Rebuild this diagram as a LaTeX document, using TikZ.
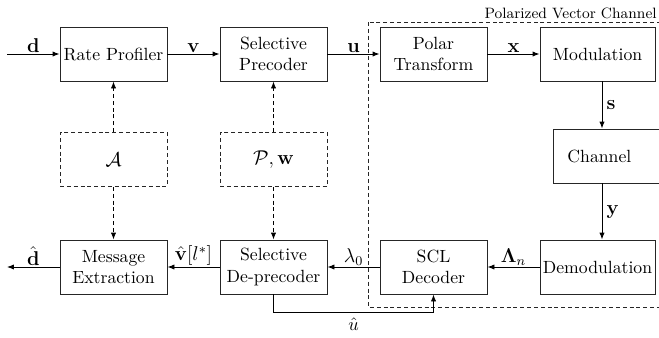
\documentclass[tikz,border=0pt]{standalone}
\usepackage{amsmath}
\usetikzlibrary{arrows.meta}
\tikzset{
  blk/.style={draw=black!85, line width=0.55pt, minimum width=64.2pt, minimum height=32.4pt, align=center, inner sep=1pt},
  dblk/.style={blk, dash pattern=on 2.4pt off 1.7pt, font=\fontsize{12}{14}\selectfont},
  sig/.style={line width=0.55pt, -{Latex[length=4.2pt,width=3.2pt]}},
  dsig/.style={sig, dash pattern=on 2.4pt off 1.7pt},
  lbl/.style={inner sep=0.5pt, font=\fontsize{12}{14}\selectfont},
}
\begin{document}
\begin{tikzpicture}[x=0.6pt, y=-0.6pt, font=\fontsize{10.6}{12.8}\selectfont]
\useasboundingbox (0,0) rectangle (659,337);
\clip (0,0) rectangle (659,337);

% top row
\node[blk] (rp) at (113.5,54) {Rate Profiler};
\node[blk] (sp) at (273.5,54) {Selective\\Precoder};
\node[blk] (pt) at (433.5,54) {Polar\\Transform};
\node[blk, minimum width=69pt] (mod) at (597.5,54) {Modulation};

% channel (box runs past the right edge)
\node[blk, anchor=west, text width=50.4pt, inner xsep=8.4pt, align=left] (ch) at (553,156) {Channel};

% bottom row
\node[blk] (me) at (113.5,267) {Message\\Extraction};
\node[blk] (dp) at (273.5,267) {Selective\\De-precoder};
\node[blk] (scl) at (433.5,267) {SCL\\Decoder};
\node[blk, minimum width=69pt] (dem) at (597.5,267) {Demodulation};

% side information
\node[dblk] (sa) at (113.5,159.5) {$\mathcal{A}$};
\node[dblk] (spw) at (273.5,159.5) {$\mathcal{P},\mathbf{w}$};

% polarized vector channel frame
\coordinate (fa) at (368,22);
\coordinate (fb) at (670,307);
\draw[black!85, line width=0.55pt, dash pattern=on 2.4pt off 1.7pt] (fa) rectangle (fb);
\node[anchor=south east, inner sep=0pt, font=\small] (pvc) at (657,19) {Polarized Vector Channel};

% forward path
\coordinate (din) at (7,54);
\draw[sig] (din) -- node[lbl, above] {$\mathbf{d}$} (rp);
\draw[sig] (rp) -- node[lbl, above] {$\mathbf{v}$} (sp);
\draw[sig] (sp) -- node[lbl, above] {$\mathbf{u}$} (pt);
\draw[sig] (pt) -- node[lbl, above] {$\mathbf{x}$} (mod);
\coordinate (sx) at (602,0);
\draw[sig] (mod.south -| sx) -- node[lbl, right=2pt] {$\mathbf{s}$} (ch.north -| sx);
\draw[sig] (ch.south -| sx) -- node[lbl, right=2pt] {$\mathbf{y}$} (dem.north -| sx);

% receive path
\coordinate (dout) at (7,267);
\draw[sig] (dem) -- node[lbl, above] {$\boldsymbol{\Lambda}_n$} (scl);
\draw[sig] (scl) -- node[lbl, above] {$\lambda_0$} (dp);
\draw[sig] (dp) -- node[lbl, above] {$\hat{\mathbf{v}}[l^*]$} (me);
\draw[sig] (me) -- node[lbl, above] {$\hat{\mathbf{d}}$} (dout);

% feedback of decided bits
\coordinate (fy) at (0,312);
\draw[sig] (dp.south) |- (fy -| scl.south) node[pos=0.75, below=3pt, inner sep=0.5pt] {$\hat{u}$} -- (scl.south);

% side information links
\draw[dsig] (sa) -- (rp);
\draw[dsig] (sa) -- (me);
\draw[dsig] (spw) -- (sp);
\draw[dsig] (spw) -- (dp);
\end{tikzpicture}
\end{document}
